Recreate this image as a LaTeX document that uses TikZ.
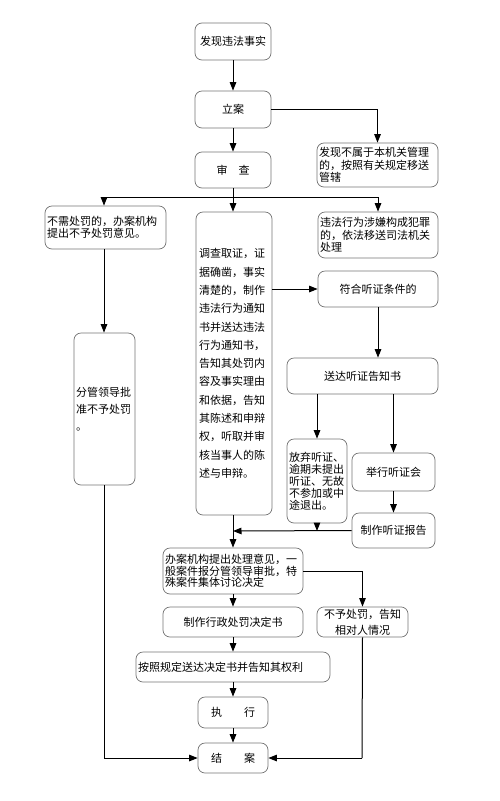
\documentclass[tikz,border=0pt]{standalone}
\usepackage{fontspec}
\setmainfont{Noto Sans CJK SC}
\usetikzlibrary{arrows.meta}
\begin{document}
\begin{tikzpicture}[x=1pt,y=-1pt,
  box/.style={draw=black!55, line width=0.7pt, rounded corners=7pt, inner sep=2pt, font=\fontsize{11}{12.5}\selectfont},
  arr/.style={line width=1pt, -{Triangle[length=8.5pt,width=6.5pt]}},
  ln/.style={line width=1pt}]
\useasboundingbox (0,0) rectangle (499,801);
% nodes
\node[box, minimum width=76pt, minimum height=37pt] (find) at (233,41.5) {发现违法事实};
\node[box, minimum width=76pt, minimum height=37pt] (lian) at (233,109.5) {立案};
\node[box, minimum width=76pt, minimum height=36pt] (shen) at (233,170) {审\hspace{1em}查};
\node[box, minimum width=121pt, minimum height=44pt, text width=117pt, align=left] (notours) at (377.5,165) {发现不属于本机关管理\\的，按照有关规定移送\\管辖};
\node[box, minimum width=121pt, minimum height=43pt, text width=117pt, align=left] (nopen) at (105.5,227.5) {不需处罚的，办案机构\\提出不予处罚意见。};
\node[box, minimum width=61pt, minimum height=152pt, text width=57pt, align=left, font=\fontsize{11}{17}\selectfont] (leader) at (104.5,409) {分管领导批\\准不予处罚\\。};
\node[box, minimum width=76pt, minimum height=303pt, text width=70pt, align=left, font=\fontsize{11}{18.3}\selectfont] (big) at (234,363.5) {调查取证，证\\据确凿，事实\\清楚的，制作\\违法行为通知\\书并送达违法\\行为通知书，\\告知其处罚内\\容及事实理由\\和依据，告知\\其陈述和申辩\\权，听取并审\\核当事人的陈\\述与申辩。};
\node[box, minimum width=120pt, minimum height=46pt, text width=116pt, align=left] (crime) at (378,235) {违法行为涉嫌构成犯罪\\的，依法移送司法机关\\处理};
\node[box, minimum width=120pt, minimum height=36pt] (cond) at (378,289) {符合听证条件的};
\node[box, minimum width=151pt, minimum height=36pt] (send) at (362.5,376) {送达听证告知书};
\node[box, minimum width=60pt, minimum height=84pt, text width=56pt, align=left, font=\fontsize{11}{12}\selectfont] (give) at (317,481) {放弃听证、\\逾期未提出\\听证、无故\\不参加或中\\途退出。};
\node[box, minimum width=83pt, minimum height=38pt] (hold) at (393.5,472) {举行听证会};
\node[box, minimum width=83pt, minimum height=35pt] (report) at (393.5,530.5) {制作听证报告};
\node[box, minimum width=140pt, minimum height=46pt, text width=136pt, align=left, font=\fontsize{11}{11.5}\selectfont] (office) at (233,571) {办案机构提出处理意见，一\\般案件报分管领导审批，特\\殊案件集体讨论决定};
\node[box, minimum width=91pt, minimum height=30pt, align=center, font=\fontsize{11}{16}\selectfont] (nopun) at (362.5,622) {不予处罚，告知\\相对人情况};
\node[box, minimum width=140pt, minimum height=30pt] (decide) at (233,622) {制作行政处罚决定书};
\node[box, minimum width=194pt, minimum height=30pt, text width=190pt, align=left] (deliver) at (233,667) {按照规定送达决定书并告知其权利};
\node[box, minimum width=70pt, minimum height=31pt] (exec) at (233,712.5) {执\hspace{2em}行};
\node[box, minimum width=70pt, minimum height=30pt] (close) at (233,758) {结\hspace{2em}案};
% coordinates
\coordinate (split) at (233,197);
\coordinate (hl) at (104,197);
\coordinate (hr) at (378,197);
\coordinate (bl) at (104,758);
\coordinate (merge) at (233,531);
\coordinate (br) at (362,758);
% connectors
\draw[arr] (find) -- (lian);
\draw[arr] (lian) -- (shen);
\draw[arr] (lian.east) -| (notours.north);
\draw[ln] (shen.south) -- (split);
\draw[ln] (hl) -- (hr);
\draw[arr] (hl) -- (hl |- nopen.north);
\draw[arr] (split) -- (split |- big.north);
\draw[arr] (hr) -- (crime.north);
\draw[arr] (hl |- nopen.south) -- (hl |- leader.north);
\draw[ln] (hl |- leader.south) -- (bl);
\draw[arr] (bl) -- (close.west);
\draw[arr] (big.east |- cond.west) -- (cond.west);
\draw[arr] (cond.south) -- (cond.south |- send.north);
\draw[arr] (give.north |- send.south) -- (give.north);
\draw[arr] (hold.north |- send.south) -- (hold.north);
\draw[arr] (hold) -- (report);
\draw[arr] (report.west) -- (merge);
\draw[arr] (give.south) -- (give.south |- merge);
\draw[arr] (split |- big.south) -- (office.north);
\draw[arr] (office) -- (decide);
\draw[arr] (decide) -- (deliver);
\draw[arr] (deliver) -- (exec);
\draw[arr] (exec) -- (close);
\draw[arr] (office.east) -| (nopun.north);
\draw[ln] (nopun.south) -- (br);
\draw[arr] (br) -- (close.east);
\end{tikzpicture}
\end{document}
